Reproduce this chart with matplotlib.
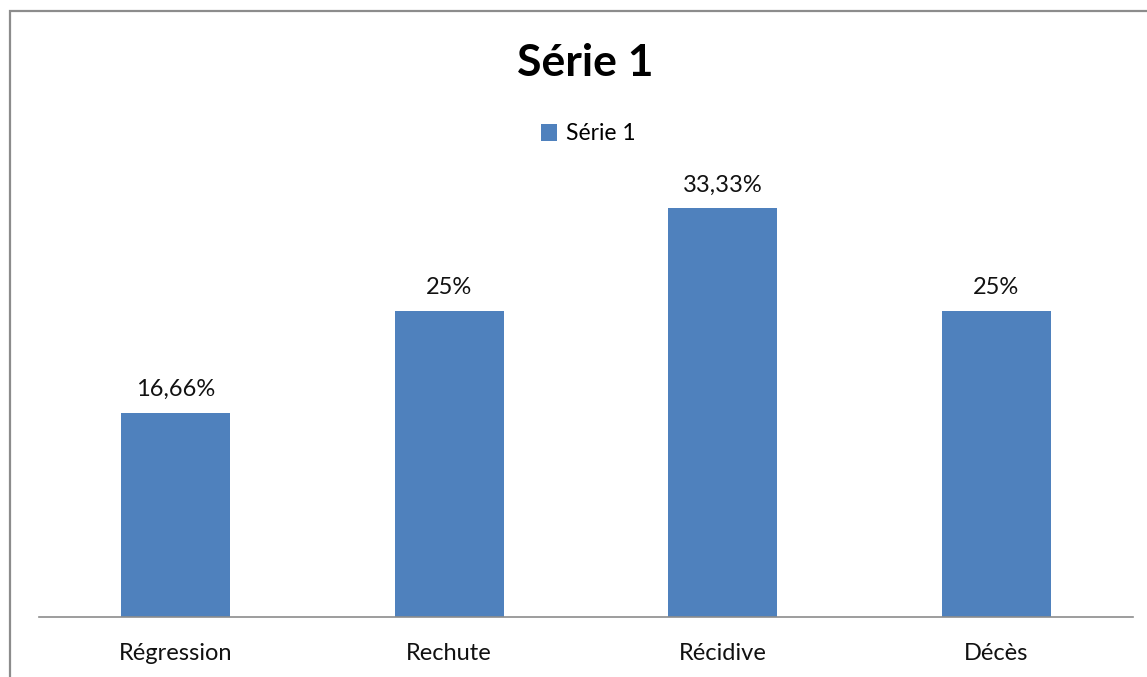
import matplotlib
matplotlib.use("Agg")
import matplotlib.pyplot as plt
from matplotlib.patches import Rectangle

categories = ["Régression", "Rechute", "Récidive", "Décès"]
values = [16.66, 25, 33.33, 25]
value_labels = ["16,66%", "25%", "33,33%", "25%"]
series_name = "Série 1"

plt.rcParams['font.family'] = ['Lato', 'DejaVu Sans']

W, H = 1147, 677
fig = plt.figure(figsize=(W / 100, H / 100), dpi=100)
fig.patch.set_facecolor("white")

# chart frame
fig.add_artist(Rectangle((9.5 / W, -0.1), 1.2, (H - 11) / H + 0.1,
                         transform=fig.transFigure, fill=False,
                         edgecolor="#8c8c8c", linewidth=1.6))

ax = fig.add_axes([39 / W, (H - 617) / H, (1133 - 39) / W, (617 - 188) / H])
bar_color = "#4F81BD"
x = range(len(categories))
bars = ax.bar(x, values, width=0.40, color=bar_color, label=series_name, zorder=2)
ax.set_xlim(-0.5, len(categories) - 0.5)
ax.set_ylim(0, 35)

for rect, lab in zip(bars, value_labels):
    ax.annotate(lab, (rect.get_x() + rect.get_width() / 2, rect.get_height()),
                xytext=(0, 9), textcoords="offset points",
                ha="center", va="bottom", fontsize=17, color="#111111")

for s in ["top", "right", "left"]:
    ax.spines[s].set_visible(False)
ax.spines["bottom"].set_color("#8c8c8c")
ax.spines["bottom"].set_linewidth(1.2)
ax.set_yticks([])
ax.set_xticks(list(x))
ax.set_xticklabels(categories, fontsize=17, color="#111111")
ax.tick_params(axis="x", length=0, pad=19)

fig.text(585 / W, 1 - 63 / H, series_name, ha="center", va="center",
         fontsize=32, fontweight="bold", color="#000000")

leg = fig.legend(handles=[bars], labels=[series_name], loc="center",
                 bbox_to_anchor=(588 / W, 1 - 134 / H), frameon=False,
                 fontsize=16.5, handlelength=0.7, handleheight=0.7,
                 handletextpad=0.4)

fig.savefig("out.png", dpi=100)
